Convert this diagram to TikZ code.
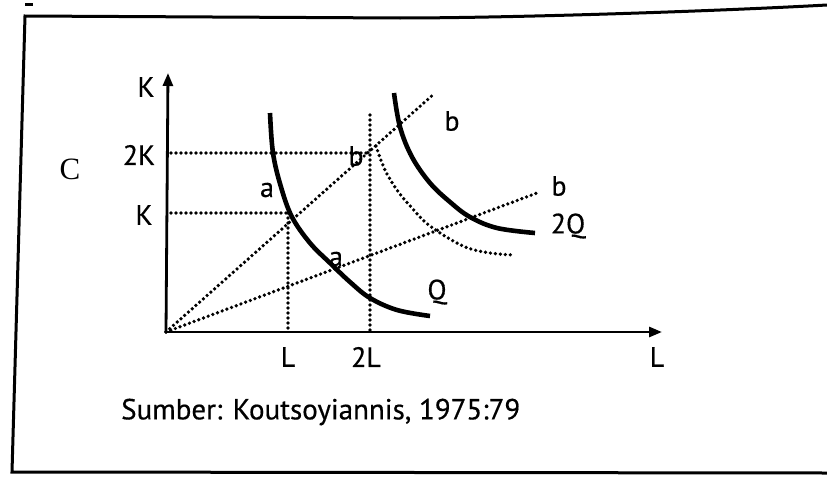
\documentclass[tikz,border=0pt]{standalone}
\usepackage{fontspec}
\setmainfont{PT Sans}[FakeBold=0.5]
\newfontfamily\serifC{Liberation Serif}
\usetikzlibrary{arrows.meta}
\begin{document}
\begin{tikzpicture}[x=1pt,y=-1pt,
  axis/.style={line width=2.8pt,-{Triangle[length=13pt,width=10pt]}},
  curve/.style={line width=4.6pt},
  dots/.style={line width=3.7pt,line cap=round,dash pattern=on 0pt off 5pt},
  frame/.style={line width=3pt},
  lbl/.style={font=\fontsize{28}{30}\selectfont,inner sep=0pt},
  src/.style={font=\fontsize{29}{31}\selectfont,inner sep=0pt,anchor=west}]
\useasboundingbox (0,0) rectangle (827,479);
% frame
\draw[frame] (827,5) .. controls (700,12) and (500,18) .. (400,18) -- (25,16) -- (12,472) -- (827,473);
\fill (25,3) rectangle (33,6);
% coordinates
\coordinate (O) at (166,332);
\coordinate (Ytop) at (168,73);
\coordinate (Xend) at (662,332);
\coordinate (K2a) at (171,153);
\coordinate (K2b) at (370,153);
\coordinate (Ka) at (171,213);
\coordinate (Kb) at (288,213);
\coordinate (La) at (288,330);
\coordinate (L2top) at (370,115);
\coordinate (L2a) at (370,330);
\coordinate (R1) at (435,93);
\coordinate (R2) at (537,193);
% dotted guide lines
\draw[dots] (K2a) -- (K2b);
\draw[dots] (Ka) -- (Kb);
\draw[dots] (Kb) -- (La);
\draw[dots] (L2top) -- (L2a);
\draw[dots] (O) -- (R1);
\draw[dots] (O) -- (R2);
\draw[dots] plot[smooth,tension=0.6] coordinates {(376,146) (385,170) (397,190) (412,208) (430,226) (463,246) (490,253) (515,255)};
% isoquants
\draw[curve] plot[smooth,tension=0.6] coordinates {(270,113) (273,153) (281,187) (292,217) (310,243) (330,263) (350,282) (370,298) (397,310) (430,316)};
\draw[curve] plot[smooth,tension=0.6] coordinates {(394,93) (400,127) (412,157) (430,183) (450,202) (470,217) (497,228) (535,233)};
% axes
\draw[axis] (O) -- (Ytop);
\draw[axis] (O) -- (Xend);
% labels
\node[lbl] (kax) at (146,87) {K};
\node[lbl] (k2) at (139,155) {2K};
\node[lbl] (k1) at (144,215) {K};
\node[lbl] (l1) at (288,357) {L};
\node[lbl] (l2) at (366,357) {2L};
\node[lbl] (lax) at (657,357) {L};
\node[lbl] (aup) at (267,190) {a};
\node[lbl] (alow) at (336,259) {a};
\node[lbl] (bmid) at (356,156) {b};
\node[lbl] (bup) at (452,121) {b};
\node[lbl] (bright) at (559,186) {b};
\node[lbl] (q2) at (568,226) {2Q};
\node[lbl] (q1) at (437,292) {Q};
\node[inner sep=0pt,font=\fontsize{31}{33}\serifC\selectfont] (c) at (70,169) {C};
\node[src] (source) at (121,412) {Sumber: Koutsoyiannis, 1975:79};
\end{tikzpicture}
\end{document}
